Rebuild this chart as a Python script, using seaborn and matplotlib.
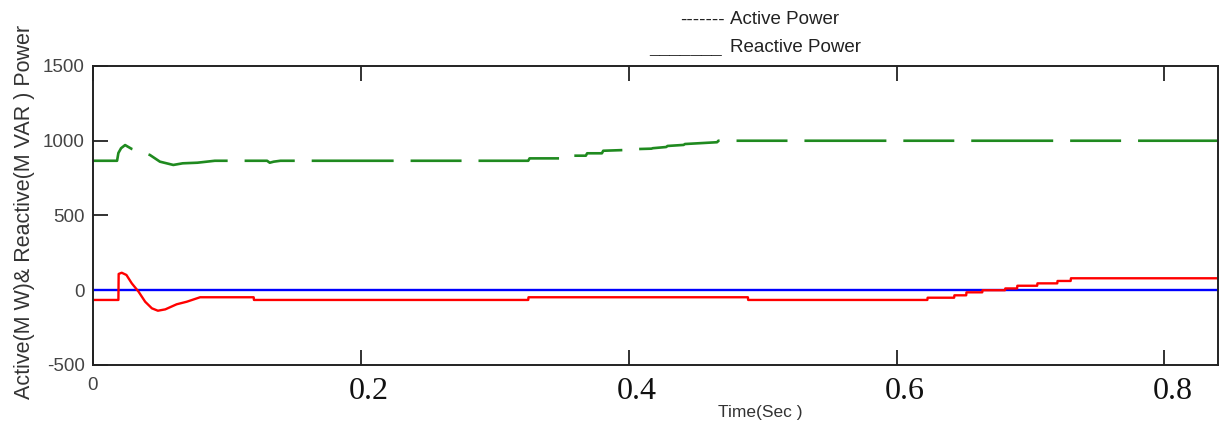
import matplotlib
matplotlib.use("Agg")
import matplotlib.pyplot as plt
from matplotlib.transforms import ScaledTranslation
import numpy as np
import pandas as pd
import seaborn as sns

# ---------------- data ----------------
# Active power (green, dashed), MW
active_time = [0.0, 0.018, 0.019, 0.021, 0.024, 0.029, 0.036, 0.0425, 0.05, 0.06,
               0.067, 0.078, 0.091, 0.13, 0.132, 0.135, 0.14, 0.325, 0.326, 0.349,
               0.35, 0.368, 0.369, 0.38, 0.381, 0.404, 0.405, 0.417, 0.418, 0.428,
               0.429, 0.441, 0.442, 0.466, 0.467, 0.84]
active_power = [866, 866, 918, 950, 971, 945, 925, 905, 860, 838,
                849, 853, 866, 866, 853, 860, 866, 866, 882, 882,
                900, 900, 916, 916, 933, 940, 944, 947, 950, 958,
                965, 972, 978, 990, 1000, 1000]

# Reactive power (red, solid), MVAR
reactive_time = [0.0, 0.019, 0.0192, 0.0215, 0.025, 0.029, 0.034, 0.039, 0.044, 0.0485,
                 0.054, 0.0625, 0.07, 0.08, 0.12, 0.1202, 0.325, 0.3252, 0.489, 0.4892,
                 0.623, 0.6232, 0.643, 0.6432, 0.652, 0.6522, 0.664, 0.6642, 0.681, 0.6812,
                 0.69, 0.6902, 0.705, 0.7052, 0.72, 0.7202, 0.73, 0.7302, 0.84]
reactive_power = [-65, -65, 109, 117, 102, 46, -9, -77, -121, -137,
                  -128, -94, -77, -47, -47, -65, -65, -47, -47, -65,
                  -65, -50, -50, -34, -34, -14, -14, 0, 0, 12,
                  12, 30, 30, 46, 46, 62, 62, 80, 80]

# Zero reference line (blue)
reference_time = [0.0, 0.84]
reference_power = [0, 0]

x_ticks = [0, 0.2, 0.4, 0.6, 0.8]
x_tick_labels = ["0", "0.2", "0.4", "0.6", "0.8"]
y_ticks = [-500, 0, 500, 1000, 1500]
y_tick_labels = ["-500", "0", "500", "1000", "1500"]

# ---------------- style ----------------
sns.set_style("white")
plt.rcParams["font.family"] = ["Liberation Sans", "DejaVu Sans"]
plt.rcParams["lines.scale_dashes"] = False

fig = plt.figure(figsize=(12.23, 4.37), dpi=100)
ax = fig.add_axes([0.0760, 0.1648, 0.9199, 0.6842])

sns.lineplot(x=reference_time, y=reference_power, ax=ax, color="#0000ff",
             linewidth=1.7, estimator=None, sort=False)
sns.lineplot(x=reactive_time, y=reactive_power, ax=ax, color="#ff0000",
             linewidth=1.7, estimator=None, sort=False)
sns.lineplot(x=active_time, y=active_power, ax=ax, color="#1f8a1f",
             linewidth=1.9, estimator=None, sort=False,
             linestyle=(0, (36.7, 12.2, 59.0, 12.2)))

ax.set_xlim(0, 0.84)
ax.set_ylim(-500, 1500)
ax.set_xticks(x_ticks)
ax.set_yticks(y_ticks)
ax.set_yticklabels(y_tick_labels, fontsize=13.5, color="#444444",
                   family=["Liberation Sans", "DejaVu Sans"])
ax.set_xticklabels(x_tick_labels)
ax.set_xlabel("")
ax.set_ylabel("")

for sp in ax.spines.values():
    sp.set_visible(True)
    sp.set_color("#222222")
    sp.set_linewidth(1.4)

ax.tick_params(axis="both", direction="in", length=10.8, width=1.3, color="#222222")
ax.tick_params(axis="x", top=True, bottom=True, pad=9)
ax.tick_params(axis="y", left=True, right=False, pad=6)

for i, lab in enumerate(ax.get_xticklabels()):
    if i == 0:
        lab.set_fontfamily(["Liberation Sans", "DejaVu Sans"])
        lab.set_fontsize(13.5)
        lab.set_color("#444444")
    else:
        lab.set_fontfamily(["Liberation Serif", "DejaVu Serif"])
        lab.set_fontsize(23)
        lab.set_color("#111111")
        lab.set_transform(lab.get_transform() + ScaledTranslation(8 / 100, 0, fig.dpi_scale_trans))

# axis titles
fig.text(25 / 1223, 1 - 212 / 437, "Active(M W)& Reactive(M VAR ) Power",
         rotation=90, ha="center", va="center", fontsize=15.5, color="#333333")
fig.text(760 / 1223, 1 - 412 / 437, "Time(Sec )", ha="center", va="center",
         fontsize=12.5, color="#333333")

# legend (text style)
fig.text(730 / 1223, 1 - 20 / 437, "Active Power", ha="left", va="center",
         fontsize=13.5, color="#222222")
fig.text(725 / 1223, 1 - 20 / 437, "-------", ha="right", va="center",
         fontsize=13.5, color="#222222")
fig.text(730 / 1223, 1 - 47 / 437, "Reactive Power", ha="left", va="center",
         fontsize=13.5, color="#222222")
fig.text(722 / 1223, 1 - 50 / 437, "_______", ha="right", va="center",
         fontsize=13.5, color="#222222", fontweight="bold")

fig.savefig("out.png", dpi=100, facecolor="white")
